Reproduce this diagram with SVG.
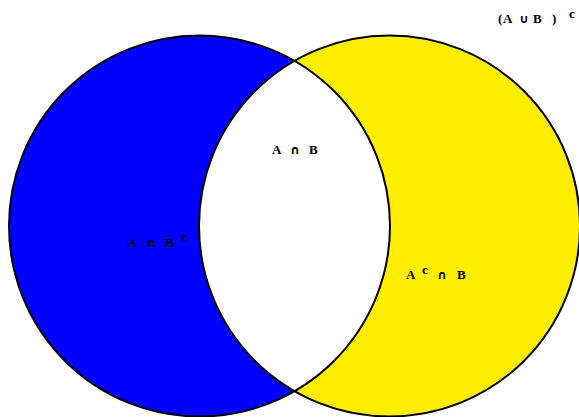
<svg xmlns="http://www.w3.org/2000/svg" width="579" height="417" viewBox="0 0 579 417">
<style>
.lbl{font-family:"Liberation Serif","DejaVu Serif",serif;font-weight:bold;font-size:13px;fill:#000}
.op{font-family:"DejaVu Sans",sans-serif;font-weight:bold;font-size:12px}
.sup{font-size:13px}
.ring{fill:none;stroke:#000;stroke-width:2}
</style>
<rect width="579" height="417" fill="#fff"/>
<g id="setA"><circle cx="199.5" cy="226" r="190.5" fill="#0000FF"/></g>
<g id="setB"><circle cx="389.5" cy="226" r="190.5" fill="#FFEE00"/></g>
<g id="intersection"><path d="M294.5,60.9 A190.5,190.5 0 0 1 294.5,391.1 A190.5,190.5 0 0 1 294.5,60.9 Z" fill="#fff"/></g>
<g id="outlines">
<circle class="ring" cx="199.5" cy="226" r="190.5"/>
<circle class="ring" cx="389.5" cy="226" r="190.5"/>
</g>
<g id="labels">
<text class="lbl" y="23"><tspan x="498">(</tspan><tspan x="503">A</tspan><tspan class="op" x="519">∪</tspan><tspan x="533">B</tspan><tspan x="552">)</tspan><tspan class="sup" x="569" y="18">c</tspan></text>
<text class="lbl" y="154"><tspan x="272">A</tspan><tspan class="op" x="290">∩</tspan><tspan x="309">B</tspan></text>
<text class="lbl" y="247"><tspan x="127">A</tspan><tspan class="op" x="146">∩</tspan><tspan x="165">B</tspan><tspan class="sup" x="181" y="241">c</tspan></text>
<text class="lbl" y="279"><tspan x="406">A</tspan><tspan class="sup" x="422" y="274">c</tspan><tspan class="op" x="437" y="279">∩</tspan><tspan x="457">B</tspan></text>
</g>
</svg>
